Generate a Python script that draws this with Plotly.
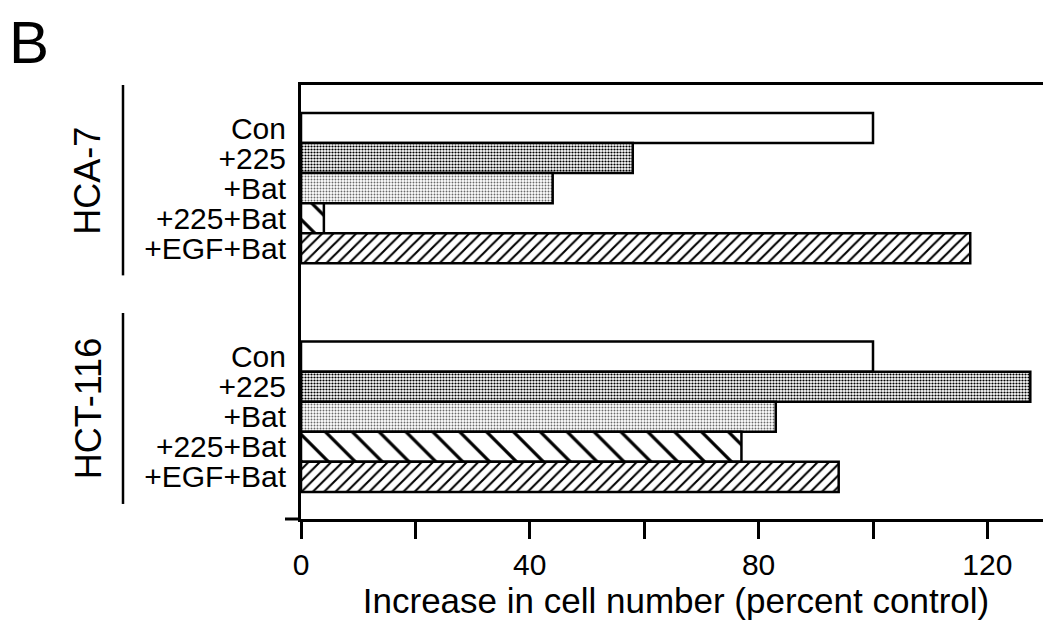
import plotly.graph_objects as go

# ---- data ----
cell_lines = ["HCA-7", "HCT-116"]
treatments = ["Con", "+225", "+Bat", "+225+Bat", "+EGF+Bat"]
con = [100, 100]
plus_225 = [58, 127.5]
plus_bat = [44, 83]
plus_225_bat = [4, 77]
plus_egf_bat = [117, 94]
series_values = [con, plus_225, plus_bat, plus_225_bat, plus_egf_bat]
x_tick_vals = [0, 20, 40, 60, 80, 100, 120]
x_tick_text = ["0", "", "40", "", "80", "", "120"]
x_title = "Increase in cell number (percent control)"
panel_label = "B"

# ---- layout parameters ----
GROUP_STEP = 7.6       # slot offset between the two cell-line groups
FONT = "Liberation Sans, Arial, Helvetica, sans-serif"
OFF = 8                # default page body margin in the saved html
W, H = 1051 - OFF, 626 - OFF
ML, MR, MT, MB = 301 - OFF, 0, 85 - OFF, 107
PW = W - ML - MR
PH = H - MT - MB
PX_PER_UNIT = 5.72

def px_x(page_x):
    """page pixel x -> paper coordinate"""
    return (page_x - OFF - ML) / PW

def px_y(page_y):
    """page pixel y -> paper coordinate"""
    return 1 - (page_y - OFF - MT) / PH

styles = [
    dict(color="white"),
    dict(color="white", pattern=dict(shape=".", fgcolor="#000000", bgcolor="#ffffff",
                                     size=3, solidity=0.42, fillmode="replace")),
    dict(color="white", pattern=dict(shape=".", fgcolor="#6a6a6a", bgcolor="#ffffff",
                                     size=3, solidity=0.32, fillmode="replace")),
    dict(color="white", pattern=dict(shape="\\", fgcolor="#000000", bgcolor="#ffffff",
                                     size=19, solidity=0.17, fillmode="replace")),
    dict(color="white", pattern=dict(shape="/", fgcolor="#000000", bgcolor="#ffffff",
                                     size=8, solidity=0.26, fillmode="replace")),
]

def pos(g, i):
    return g * GROUP_STEP + i

fig = go.Figure()
for i, (name, vals) in enumerate(zip(treatments, series_values)):
    fig.add_trace(go.Bar(
        x=vals,
        y=[pos(g, i) for g in range(len(cell_lines))],
        orientation="h",
        width=1.0,
        name=name,
        marker=dict(**styles[i], line=dict(color="black", width=2.5)),
        hoverinfo="x+name",
    ))

tickvals = [pos(g, i) for g in range(len(cell_lines)) for i in range(len(treatments))]
ticktext = treatments * len(cell_lines)

shapes = []
annotations = []
# extension of x-axis line to the left
shapes.append(dict(type="line", xref="paper", yref="paper", x0=px_x(285), x1=0, y0=0, y1=0,
                   line=dict(color="black", width=3)))
for g, cl in enumerate(cell_lines):
    top = pos(g, 0) - 0.5
    bot = pos(g, len(treatments) - 1) + 0.5
    shapes.append(dict(type="line", xref="paper", yref="y",
                       x0=px_x(123), x1=px_x(123),
                       y0=top - 0.95, y1=bot + 0.4,
                       line=dict(color="black", width=2.5)))
    annotations.append(dict(text=cl, xref="paper", yref="y",
                            x=px_x(88), y=(top + bot) / 2 - 0.25,
                            textangle=-90, showarrow=False,
                            xanchor="center", yanchor="middle",
                            font=dict(size=36, color="black", family=FONT)))

annotations.append(dict(text=panel_label, xref="paper", yref="paper",
                        x=px_x(8), y=px_y(OFF),
                        xanchor="left", yanchor="top", showarrow=False, borderpad=0,
                        font=dict(size=60, color="black", family=FONT)))

fig.update_layout(
    width=W, height=H,
    margin=dict(l=ML, r=MR, t=MT, b=MB, pad=0, autoexpand=False),
    paper_bgcolor="white", plot_bgcolor="white",
    showlegend=False,
    barmode="overlay",
    font=dict(family=FONT, color="black"),
    shapes=shapes,
    annotations=annotations,
    xaxis=dict(
        range=[0, PW / PX_PER_UNIT],
        automargin=False,
        tickvals=x_tick_vals, ticktext=x_tick_text,
        ticks="outside", ticklen=17, tickwidth=2.5, tickcolor="black",
        showline=True, linewidth=3, linecolor="black", mirror=True,
        showgrid=False, zeroline=False,
        tickfont=dict(size=30, family=FONT, color="black"),
        title=dict(text=x_title, font=dict(size=35, family=FONT, color="black"), standoff=2),
    ),
    yaxis=dict(
        range=[13.0, -1.43],
        automargin=False,
        tickvals=tickvals, ticktext=ticktext,
        ticks="outside", ticklen=6, tickwidth=0, tickcolor="rgba(0,0,0,0)",
        showline=True, linewidth=3, linecolor="black",
        showgrid=False, zeroline=False,
        tickfont=dict(size=30, family=FONT, color="black"),
    ),
)

fig.write_html("out.html")
